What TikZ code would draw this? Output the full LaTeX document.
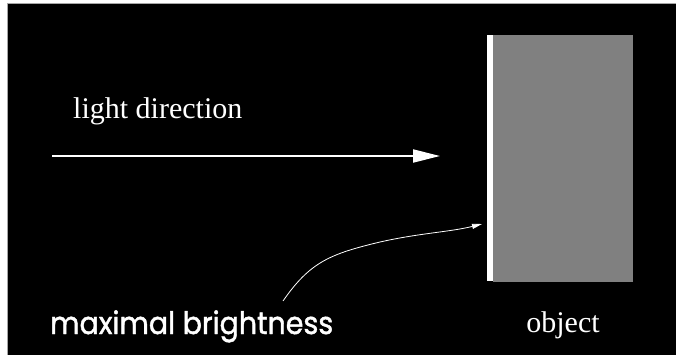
\documentclass[tikz,border=0pt]{standalone}
\usepackage{fontspec}
\usepackage{graphicx}
\setmainfont{Liberation Serif}
\newfontfamily\geofont[FakeBold=1.5]{Poppins}
\usetikzlibrary{arrows.meta}
\begin{document}
\begin{tikzpicture}[x=1pt,y=1pt,
  serif/.style={text=white,font=\fontsize{30}{32}\selectfont,inner sep=0pt},
  lightarrow/.style={draw=white,line width=2pt,-{Triangle[length=27pt,width=13pt]}},
  thinarrow/.style={draw=white,line width=0.8pt,-{Triangle[length=10pt,width=5pt]}}]
\useasboundingbox (0,0) rectangle (676,354);
\fill[white] (0,0) rectangle (676,354);
\draw[fill=black,draw=gray!70,line width=0.8pt] (7.5,-1) rectangle (677,350.5);
% object
\fill[gray] (493,72) rectangle (633,319);
\node[fill=white,inner sep=0pt,minimum width=6.5pt,minimum height=246pt,anchor=north west] (bar) at (486.5,319) {};
% light direction
\coordinate (ls) at (52,198);
\coordinate (le) at (440,198);
\draw[lightarrow] (ls) -- (le);
\node[serif,anchor=base west] (ld) at (73,236) {light direction};
% labels
\node[serif,anchor=base] (obj) at (563,22) {object};
\node[text=white,inner sep=0pt,anchor=base west,font=\geofont\fontsize{27}{29}\selectfont] (mb) at (50,20) {\resizebox{283pt}{1.15\height}{maximal brightness}};
\coordinate (cs) at (283,53);
\coordinate (ce) at (482,130);
\draw[thinarrow] (cs) .. controls (310,92) and (330,100) .. (380,112) .. controls (420,121) and (450,122) .. (ce);
\end{tikzpicture}
\end{document}
